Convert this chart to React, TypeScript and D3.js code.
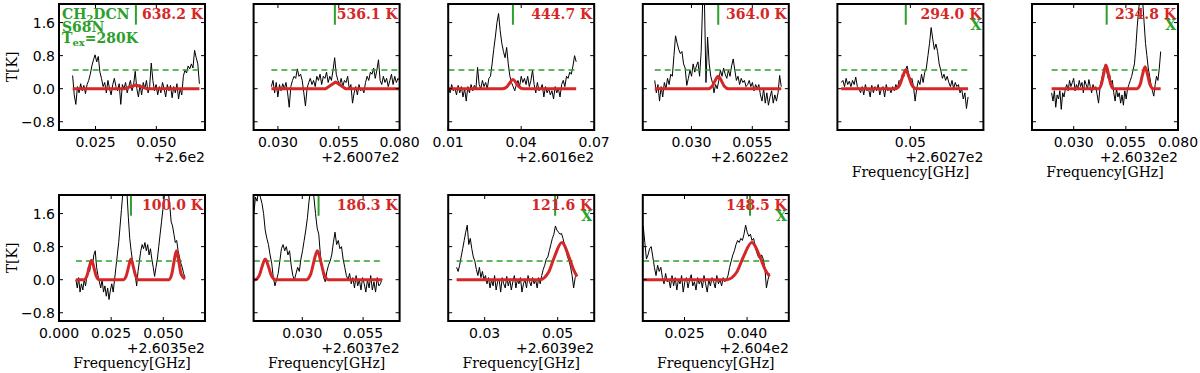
import React, { useEffect, useRef } from 'react';
import * as d3 from 'd3';

// temperature labels and axis offsets per panel
const tempLabels = ['638.2 K', '536.1 K', '444.7 K', '364.0 K', '294.0 K', '234.8 K', '100.0 K', '186.3 K', '121.6 K', '148.5 K'];
const offsetLabels = ['+2.6e2', '+2.6007e2', '+2.6016e2', '+2.6022e2', '+2.6027e2', '+2.6032e2', '+2.6035e2', '+2.6037e2', '+2.6039e2', '+2.604e2'];
const xLimits = [
  [0.01, 0.07], [0.02, 0.08], [0.01, 0.07], [0.01, 0.07], [0.02, 0.08],
  [0.01, 0.08], [0.0, 0.07], [0.01, 0.07], [0.02, 0.06], [0.015, 0.05],
];
const xTickLabels = [
  ['0.025', '0.050'], ['0.030', '0.055', '0.080'], ['0.01', '0.04', '0.07'], ['0.030', '0.055'], ['0.05'],
  ['0.030', '0.055', '0.080'], ['0.000', '0.025', '0.050'], ['0.030', '0.055'], ['0.03', '0.05'], ['0.025', '0.040'],
];
const yTicks = [-0.8, 0, 0.8, 1.6];
const yTickLabels = ['\u22120.8', '0.0', '0.8', '1.6'];
const yLimits = [-1, 2.05];
// observed channel range per panel (GHz offset)
const specStart = [0.0156, 0.0273, 0.0101, 0.0149, 0.0216, 0.0194, 0.0081, 0.0101, 0.0223, 0.0151];
const specEnd = [0.0677, 0.08, 0.0626, 0.0669, 0.0737, 0.0717, 0.0604, 0.0628, 0.0552, 0.0454];
const markerFreq = [0.0416, 0.0534, 0.0366, 0.041, 0.0481, 0.0458, 0.0345, 0.0367, 0.0493, 0.0407];
const blended = [false, false, false, false, true, true, false, false, true, true];
const threshold = 0.45;

const spec1 = [0.32, -0.15, -0.38, 0.05, -0.1, 0.12, -0.05, 0.08, -0.12, 0.1, 0.2, 0.35, 0.55, 0.7, 0.82, 0.65, 0.78, 0.4, 0.25, 0.05, 0.15, -0.1, 0.2, 0.0, -0.15, 0.1, 0.25, 0.05, -0.05, 0.12, -0.38, 0.1, 0.0, 0.15, -0.1, 0.05, 0.2, -0.05, 0.1, 0.42, 0.0, -0.2, 0.1, -0.15, 0.15, 0.0, 0.2, -0.1, 0.05, 0.62, 0.2, -0.05, 0.1, -0.15, 0.05, -0.1, 0.15, 0.0, -0.2, 0.1, -0.05, 0.08, -0.22, 0.05, -0.1, 0.12, -0.25, 0.0, -0.15, 0.3, 0.45, 0.38, 0.55, 0.48, 0.6, 0.5, 0.93, 0.75, 0.6, 0.12];
const spec2 = [0.05, 0.2, -0.1, 0.15, -0.2, 0.1, -0.05, 0.12, 0.0, 0.15, -0.1, -0.45, 0.05, 0.2, 0.3, 0.25, 0.48, 0.3, 0.35, 0.2, -0.1, -0.42, 0.0, 0.15, 0.25, 0.1, 0.2, 0.05, 0.3, 0.2, 0.35, 0.1, 0.3, 0.25, 0.4, 0.15, 0.3, 0.2, 0.45, 0.75, 0.35, 0.2, 0.1, 0.25, 0.05, 0.2, 0.15, 0.3, 0.0, 0.1, -0.35, -0.1, 0.05, -0.15, 0.1, -0.05, 0.0, -0.1, 0.15, 0.3, 0.2, 0.4, 0.35, 0.5, 0.25, 0.45, 0.7, 0.2, 0.1, 0.3, 0.15, 0.25, 0.05, 0.2, 0.35, 0.1, 0.3, 0.15, 0.25, 0.2];
const spec3 = [0.05, -0.1, 0.1, -0.05, 0.0, -0.15, 0.08, -0.1, 0.05, -0.2, 0.0, -0.3, 0.05, -0.1, 0.1, -0.05, 0.08, 0.0, 0.52, 0.1, 0.0, 0.2, 0.05, 0.15, 0.0, 0.25, 0.3, 0.6, 0.95, 1.25, 1.6, 1.82, 1.4, 1.1, 0.9, 0.75, 1.0, 0.6, 0.3, 0.15, 0.05, -0.05, 0.1, 0.2, 0.05, 0.3, 0.15, 0.25, 0.1, 0.3, 0.05, 0.2, 0.45, 0.1, -0.1, 0.15, -0.05, 0.0, 0.1, -0.2, 0.05, -0.1, 0.0, -0.15, -0.05, -0.25, 0.05, -0.1, 0.0, -0.2, 0.1, 0.2, 0.05, 0.3, 0.25, 0.4, 0.35, 0.55, 0.8, 0.65];
const spec4 = [0.2, -0.1, 0.1, -0.3, 0.05, -0.2, 0.15, 0.0, 0.25, 0.1, 0.35, 0.3, 0.8, 1.28, 1.1, 0.95, 0.85, 0.9, 0.6, 0.5, 0.08, 0.25, 0.45, 0.3, 0.6, 0.4, 0.55, 0.65, 0.3, 0.9, 2.2, 2.2, 0.15, 1.25, 0.6, 0.3, 0.15, -0.1, 0.1, 0.0, 0.2, 0.45, 0.3, 0.5, 0.35, 0.25, 0.45, 0.3, 0.55, 0.72, 0.45, 0.2, 0.3, 0.1, 0.25, 0.15, 0.2, 0.05, 0.1, 0.2, 0.05, 0.15, -0.05, 0.1, 0.0, 0.1, -0.15, -0.3, 0.0, -0.35, -0.1, -0.4, -0.2, -0.05, -0.35, -0.15, -0.3, -0.1, 0.32, 0.05];
const spec5 = [0.15, 0.2, 0.05, 0.25, 0.1, 0.18, 0.05, 0.2, 0.1, 0.28, 0.05, 0.0, -0.1, 0.05, -0.15, 0.1, -0.05, 0.0, -0.2, 0.08, -0.1, 0.05, -0.05, 0.1, -0.15, 0.0, 0.05, -0.2, 0.1, -0.05, 0.0, -0.1, 0.05, -0.05, 0.1, 0.0, 0.2, 0.15, 0.35, 0.3, 0.45, 0.55, 0.35, 0.2, 0.25, 0.05, -0.3, 0.0, 0.2, 0.1, 0.35, 0.15, 0.4, 0.5, 0.8, 1.1, 1.48, 1.2, 0.95, 1.08, 0.9, 0.6, 0.45, 0.25, 0.35, 0.2, 0.3, 0.15, 0.05, 0.2, 0.0, 0.15, 0.05, 0.1, -0.1, 0.0, -0.25, -0.1, -0.48, -0.2];
const spec6 = [-0.1, -0.3, -0.05, -0.45, -0.15, -0.25, -0.05, -0.5, -0.1, -0.2, 0.0, 0.1, -0.05, 0.2, 0.05, 0.15, 0.25, -0.05, 0.1, 0.0, 0.2, 0.05, 0.15, -0.1, 0.2, 0.1, 0.0, 0.22, 0.05, -0.1, 0.1, 0.0, 0.05, -0.15, -0.35, 0.0, 0.2, 0.35, 0.5, 0.6, 0.4, 0.25, 0.35, 0.15, 0.2, -0.1, -0.3, 0.0, -0.2, -0.1, -0.35, -0.15, -0.4, -0.05, -0.25, 0.0, 0.1, 0.2, 0.3, 0.45, 0.6, 1.0, 1.5, 1.9, 2.2, 2.2, 2.1, 1.6, 1.1, 0.8, 0.5, 0.3, 0.1, -0.05, -0.18, 0.1, 0.3, 0.2, 0.5, 0.9];
const spec7 = [0.0, -0.2, 0.05, -0.3, -0.1, -0.25, 0.0, -0.15, 0.1, 0.3, 0.2, 0.45, 0.35, 0.6, 0.7, 0.3, 0.1, -0.05, -0.2, 0.0, -0.3, -0.15, -0.4, -0.2, -0.48, -0.25, -0.1, -0.3, 0.0, 0.3, 0.6, 0.9, 1.3, 1.7, 2.1, 2.2, 2.2, 2.1, 1.5, 1.0, 0.7, 0.45, 0.2, 0.1, -0.15, 0.2, 0.45, 0.7, 0.85, 0.75, 0.9, 0.7, 0.85, 0.6, 0.75, 0.5, 0.3, 0.08, 0.3, 0.5, 0.8, 1.1, 1.4, 1.7, 2.0, 2.2, 2.2, 2.1, 1.8, 1.4, 1.3, 1.1, 0.9, 0.95, 0.7, 0.55, 0.4, 0.3, 0.15, 0.05];
const spec8 = [1.6, 2.0, 1.9, 2.2, 2.0, 1.85, 1.6, 1.2, 1.0, 0.85, 0.6, 0.4, 0.05, -0.15, 0.0, 0.15, 0.45, 0.75, 0.85, 0.7, 0.8, 0.6, 0.7, 0.35, 0.1, 0.0, 0.15, 0.3, 0.2, 0.5, 0.7, 0.95, 1.2, 1.5, 1.9, 2.2, 2.2, 2.0, 1.6, 1.25, 1.1, 0.6, 0.3, 0.05, -0.05, 0.2, 0.35, 0.45, 0.6, 0.9, 1.15, 0.85, 0.95, 0.75, 0.8, 0.5, 0.3, 0.1, 0.0, 0.15, -0.1, 0.05, -0.2, 0.1, -0.15, 0.0, -0.25, 0.05, -0.1, -0.3, 0.0, -0.2, 0.1, -0.25, -0.05, -0.3, 0.05, -0.15, -0.1, 0.02];
const spec9 = [0.3, 0.2, 0.35, 0.55, 0.75, 0.95, 1.15, 1.32, 0.85, 1.0, 0.75, 0.55, 0.45, 0.25, 0.1, 0.3, 0.05, 0.2, 0.0, 0.1, -0.1, 0.05, -0.2, 0.0, -0.15, 0.1, -0.25, -0.05, 0.0, -0.3, 0.05, -0.1, -0.2, 0.08, -0.15, 0.0, -0.25, -0.05, 0.1, -0.2, 0.0, -0.1, 0.05, -0.3, -0.1, 0.0, -0.2, 0.1, -0.05, -0.15, 0.05, -0.1, 0.0, -0.2, 0.05, -0.1, 0.1, 0.25, 0.35, 0.5, 0.55, 0.7, 0.85, 1.0, 1.1, 1.3, 1.2, 1.15, 1.1, 1.12, 1.0, 0.85, 0.7, 0.55, 0.45, 0.3, 0.1, -0.2, 0.05, 0.15];
const spec10 = [1.3, 0.9, 0.5, 0.6, 0.75, 0.8, 0.55, 0.3, 0.1, 0.35, 0.2, 0.3, 0.05, -0.1, 0.15, -0.05, 0.0, -0.2, 0.1, -0.15, 0.05, -0.25, 0.0, -0.1, 0.1, -0.3, -0.05, 0.05, -0.2, 0.0, 0.12, -0.15, -0.05, -0.25, 0.05, -0.1, 0.0, -0.2, 0.1, -0.1, -0.3, 0.0, -0.15, 0.05, -0.05, -0.2, 0.1, -0.1, 0.0, -0.15, 0.05, -0.05, 0.0, 0.1, 0.3, 0.45, 0.6, 0.7, 0.85, 0.95, 0.9, 1.0, 0.95, 1.1, 1.32, 1.15, 1.05, 1.1, 0.95, 1.0, 0.8, 0.65, 0.55, 0.5, 0.6, 0.5, 0.3, -0.2, 0.0, 0.15];
const spectra = [spec1, spec2, spec3, spec4, spec5, spec6, spec7, spec8, spec9, spec10];

// fitted model, [freq, T] vertices
const model1 = [[0.0156, 0], [0.0371, 0], [0.0416, 0.09], [0.046, 0], [0.0677, 0]];
const model2 = [[0.0273, 0], [0.0496, 0], [0.0537, 0.16], [0.0578, 0], [0.08, 0]];
const model3 = [[0.0101, 0], [0.0324, 0], [0.0341, 0.044], [0.0352, 0.133], [0.0366, 0.22], [0.038, 0.133], [0.0391, 0.044], [0.0408, 0], [0.0626, 0]];
const model4 = [[0.0149, 0], [0.0368, 0], [0.0385, 0.06], [0.0396, 0.18], [0.041, 0.3], [0.0424, 0.18], [0.0435, 0.06], [0.0452, 0], [0.0669, 0]];
const model5 = [[0.0216, 0], [0.0439, 0], [0.0456, 0.09], [0.0467, 0.27], [0.0481, 0.45], [0.0495, 0.27], [0.0506, 0.09], [0.0523, 0], [0.0737, 0]];
const model6 = [[0.0194, 0], [0.0419, 0], [0.0433, 0.114], [0.0443, 0.34], [0.0455, 0.57], [0.0467, 0.34], [0.0477, 0.114], [0.0491, 0], [0.0603, 0], [0.0619, 0.106], [0.0629, 0.32], [0.0642, 0.53], [0.0655, 0.32], [0.0665, 0.106], [0.0681, 0], [0.0717, 0]];
const model7 = [[0.0081, 0], [0.012, 0], [0.0134, 0.094], [0.0144, 0.28], [0.0156, 0.47], [0.0168, 0.28], [0.0178, 0.094], [0.0192, 0], [0.0309, 0], [0.0323, 0.1], [0.0333, 0.3], [0.0345, 0.5], [0.0357, 0.3], [0.0367, 0.1], [0.0381, 0], [0.0527, 0], [0.0541, 0.14], [0.0551, 0.42], [0.0563, 0.7], [0.0575, 0.42], [0.0585, 0.14], [0.0604, 0.02]];
const model8 = [[0.0101, 0], [0.0106, 0], [0.0123, 0.1], [0.0134, 0.3], [0.0148, 0.5], [0.0162, 0.3], [0.0173, 0.1], [0.019, 0], [0.0317, 0], [0.0335, 0.14], [0.0347, 0.42], [0.0362, 0.7], [0.0377, 0.42], [0.0389, 0.14], [0.0407, 0], [0.0628, 0]];
const model9 = [[0.0223, 0], [0.0451, 0], [0.0475, 0.18], [0.0491, 0.55], [0.0511, 0.9], [0.0531, 0.55], [0.0543, 0.25], [0.0553, 0.08]];
const model10 = [[0.0151, 0], [0.0351, 0], [0.0375, 0.18], [0.0391, 0.55], [0.0411, 0.9], [0.0431, 0.55], [0.0443, 0.25], [0.0454, 0.08]];
const models = [model1, model2, model3, model4, model5, model6, model7, model8, model9, model10];

const RED = '#d62728';
const GREEN = '#2ca02c';
const SERIF = "'DejaVu Serif', serif";
const SANS = "'DejaVu Sans', sans-serif";

export default function App() {
  const ref = useRef<SVGSVGElement>(null);

  useEffect(() => {
    draw();
    // eslint-disable-next-line react-hooks/exhaustive-deps
  }, []);

  function draw() {
    const svg = d3.select(ref.current);
    svg.selectAll('*').remove();
    const panelW = 146;
    const panelH = 126;
    const rowTop = [4, 195];

    spectra.forEach((spec, p) => {
      const row = p < 6 ? 0 : 1;
      const col = p < 6 ? p : p - 6;
      const left = 59 + col * 194.6;
      const top = rowTop[row];
      const x = d3.scaleLinear().domain(xLimits[p]).range([left, left + panelW]);
      const y = d3.scaleLinear().domain(yLimits).range([top + panelH, top]);
      const g = svg.append('g').attr('class', 'panel');

      const clipId = `clip-${p}`;
      g.append('clipPath').attr('id', clipId)
        .append('rect').attr('x', left).attr('y', top).attr('width', panelW).attr('height', panelH);
      const inner = g.append('g').attr('clip-path', `url(#${clipId})`);

      // observed spectrum on an even channel grid
      const step = (specEnd[p] - specStart[p]) / (spec.length - 1);
      const line = d3.line<number>()
        .x((d, i) => x(specStart[p] + i * step))
        .y((d) => y(d));
      inner.append('path').attr('d', line(spec)).attr('fill', 'none')
        .attr('stroke', '#000').attr('stroke-width', 1);

      // 3 sigma level
      inner.append('line')
        .attr('x1', x(specStart[p])).attr('x2', x(specEnd[p]))
        .attr('y1', y(threshold)).attr('y2', y(threshold))
        .attr('stroke', GREEN).attr('stroke-width', 1.5).attr('stroke-dasharray', '6,4');

      // model
      const modelLine = d3.line<number[]>()
        .x((d) => x(d[0]))
        .y((d) => y(d[1]))
        .curve(p < 2 ? d3.curveLinear : d3.curveMonotoneX);
      inner.append('path').attr('d', modelLine(models[p])).attr('fill', 'none')
        .attr('stroke', RED).attr('stroke-width', 3).attr('stroke-linejoin', 'round');

      // line marker
      inner.append('line')
        .attr('x1', x(markerFreq[p])).attr('x2', x(markerFreq[p]))
        .attr('y1', y(yLimits[1])).attr('y2', y(1.55))
        .attr('stroke', GREEN).attr('stroke-width', 2);

      // ticks, inward on all sides
      yTicks.forEach((t) => {
        g.append('line').attr('x1', left).attr('x2', left + 4).attr('y1', y(t)).attr('y2', y(t)).attr('stroke', '#000');
        g.append('line').attr('x1', left + panelW - 4).attr('x2', left + panelW).attr('y1', y(t)).attr('y2', y(t)).attr('stroke', '#000');
      });
      xTickLabels[p].forEach((lab) => {
        const xv = x(+lab);
        g.append('line').attr('x1', xv).attr('x2', xv).attr('y1', top + panelH).attr('y2', top + panelH - 4).attr('stroke', '#000');
        g.append('line').attr('x1', xv).attr('x2', xv).attr('y1', top).attr('y2', top + 4).attr('stroke', '#000');
        g.append('text').text(lab).attr('x', xv).attr('y', top + panelH + 17)
          .attr('text-anchor', 'middle').attr('font-family', SANS).attr('font-size', 14);
      });

      // frame
      g.append('rect').attr('x', left).attr('y', top).attr('width', panelW).attr('height', panelH)
        .attr('fill', 'none').attr('stroke', '#000').attr('stroke-width', 2);

      g.append('text').text(offsetLabels[p]).attr('x', left + panelW).attr('y', top + panelH + 32)
        .attr('text-anchor', 'end').attr('font-family', SANS).attr('font-size', 14);

      if (col === 0) {
        yTicks.forEach((t, i) => {
          g.append('text').text(yTickLabels[i]).attr('x', left - 4).attr('y', y(t) + 5)
            .attr('text-anchor', 'end').attr('font-family', SANS).attr('font-size', 14);
        });
        g.append('text').text('T[K]')
          .attr('transform', `translate(${left - 42},${top + panelH / 2}) rotate(-90)`)
          .attr('text-anchor', 'middle').attr('font-family', SERIF).attr('font-size', 14);
      }
      if (p >= 4) {
        g.append('text').text('Frequency[GHz]').attr('x', left + panelW / 2).attr('y', top + panelH + 46.5)
          .attr('text-anchor', 'middle').attr('font-family', SERIF).attr('font-size', 14);
      }

      g.append('text').text(tempLabels[p]).attr('x', left + panelW - 2).attr('y', top + 14.5)
        .attr('text-anchor', 'end').attr('font-family', SERIF).attr('font-weight', 'bold')
        .attr('font-size', 14).attr('fill', RED);
      if (blended[p]) {
        g.append('text').text('X').attr('x', left + panelW - 2).attr('y', top + 26)
          .attr('text-anchor', 'end').attr('font-family', SERIF).attr('font-weight', 'bold')
          .attr('font-size', 14).attr('fill', GREEN);
      }

      if (p === 0) {
        const t1 = g.append('text').attr('x', left + 3).attr('y', top + 14.5)
          .attr('font-family', SERIF).attr('font-weight', 'bold').attr('font-size', 14).attr('fill', GREEN);
        t1.append('tspan').text('CH');
        t1.append('tspan').text('2').attr('font-size', 10).attr('dy', 3);
        t1.append('tspan').text('DCN').attr('dy', -3);
        g.append('text').text('S68N').attr('x', left + 3).attr('y', top + 28)
          .attr('font-family', SERIF).attr('font-weight', 'bold').attr('font-size', 14).attr('fill', GREEN);
        const t3 = g.append('text').attr('x', left + 3).attr('y', top + 39)
          .attr('font-family', SERIF).attr('font-weight', 'bold').attr('font-size', 14).attr('fill', GREEN);
        t3.append('tspan').text('T');
        t3.append('tspan').text('ex').attr('font-size', 10).attr('dy', 3);
        t3.append('tspan').text('=280K').attr('dy', -3);
      }
    });
  }

  return (
    <svg
      ref={ref}
      width={1200}
      height={373}
      style={{ position: 'absolute', left: 0, top: 0, background: '#fff' }}
    />
  );
}
